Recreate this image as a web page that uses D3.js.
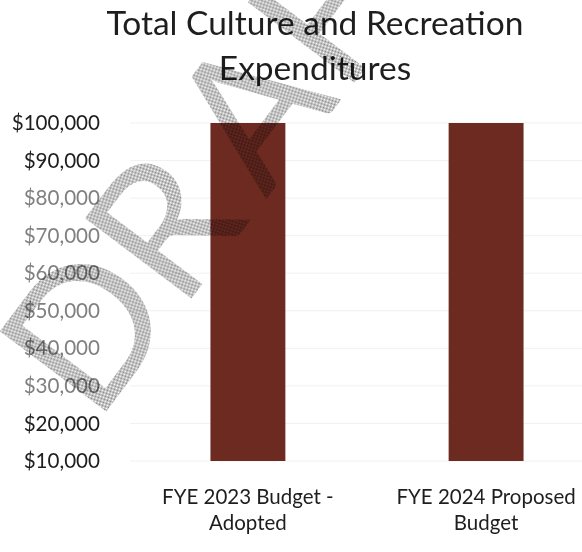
<!DOCTYPE html>
<html>
<head>
<meta charset="utf-8">
<script src="https://cdn.jsdelivr.net/npm/d3@7"></script>
<style>
  html, body { margin: 0; padding: 0; background: #fff; }
  svg { display: block; }
</style>
</head>
<body>
<svg id="chart" width="582" height="552"></svg>
<script>
// Chart data
const titleLines = ["Total Culture and Recreation", "Expenditures"];
const categories = ["FYE 2023 Budget - Adopted", "FYE 2024 Proposed Budget"];
const categoryLines = [["FYE 2023 Budget -", "Adopted"], ["FYE 2024 Proposed", "Budget"]];
const values = [100000, 100000];
const yTicks = [10000, 20000, 30000, 40000, 50000, 60000, 70000, 80000, 90000, 100000];
const watermarkText = "DRAFT";

const FONT = "Lato, 'Open Sans', sans-serif";
const svg = d3.select("#chart");
const W = 582, H = 552;

svg.append("rect").attr("width", W).attr("height", H).attr("fill", "#fff");

// Scales
const x = d3.scaleBand()
  .domain(categories)
  .range([139, 595])
  .paddingInner(0.6855)
  .paddingOuter(0.3);

const y = d3.scaleLinear()
  .domain([10000, 100000])
  .range([461, 123]);

const fmt = d3.format("$,");

// Faint horizontal gridlines
svg.append("g")
  .selectAll("line")
  .data(yTicks)
  .join("line")
  .attr("x1", 130).attr("x2", W)
  .attr("y1", d => y(d)).attr("y2", d => y(d))
  .attr("stroke", "#f1f1f1")
  .attr("stroke-width", 1);

// Y axis labels
const yAxis = d3.axisLeft(y).tickValues(yTicks).tickFormat(fmt).tickSize(0).tickPadding(0);
const yg = svg.append("g").attr("transform", "translate(100,0)").call(yAxis);
yg.select(".domain").remove();
yg.selectAll("text")
  .attr("font-family", FONT)
  .attr("font-size", 20.6)
  .attr("fill", d => (d >= 30000 && d <= 80000) ? "#808080" : "#1e1e1e");

// Bars (clamped to the axis range)
const yMax = y.domain()[1], yMin = y.domain()[0];
svg.append("g")
  .selectAll("rect")
  .data(values)
  .join("rect")
  .attr("x", (d, i) => x(categories[i]))
  .attr("width", x.bandwidth())
  .attr("y", d => y(Math.min(d, yMax)))
  .attr("height", d => y(yMin) - y(Math.min(d, yMax)))
  .attr("fill", "#6c2a21");

// Category labels
const xl = svg.append("g");
categoryLines.forEach((lines, i) => {
  const cx = x(categories[i]) + x.bandwidth() / 2;
  const t = xl.append("text")
    .attr("text-anchor", "middle")
    .attr("font-family", FONT)
    .attr("font-size", 20.5)
    .attr("fill", "#1e1e1e");
  lines.forEach((ln, j) => {
    t.append("tspan").attr("x", cx).attr("y", 504 + j * 26).text(ln);
  });
});

// Title
const tt = svg.append("text")
  .attr("text-anchor", "middle")
  .attr("font-family", FONT)
  .attr("font-size", 33.5)
  .attr("fill", "#1e1e1e");
titleLines.forEach((ln, j) => {
  tt.append("tspan").attr("x", 315).attr("y", 35 + j * 45).text(ln);
});

// Dotted "DRAFT" watermark
const defs = svg.append("defs");
const pat = defs.append("pattern")
  .attr("id", "checker")
  .attr("patternUnits", "userSpaceOnUse")
  .attr("width", 2).attr("height", 2);
pat.append("rect").attr("width", 1).attr("height", 1).attr("fill", "#707070");
pat.append("rect").attr("x", 1).attr("y", 1).attr("width", 1).attr("height", 1).attr("fill", "#707070");

svg.append("text")
  .attr("transform", "translate(96,425) rotate(-53)")
  .attr("font-family", FONT)
  .attr("font-size", 186)
  .attr("dx", "0 0 24 4 4")
  .attr("fill", "url(#checker)")
  .style("mix-blend-mode", "multiply")
  .attr("opacity", 0.85)
  .text(watermarkText);
</script>
</body>
</html>
